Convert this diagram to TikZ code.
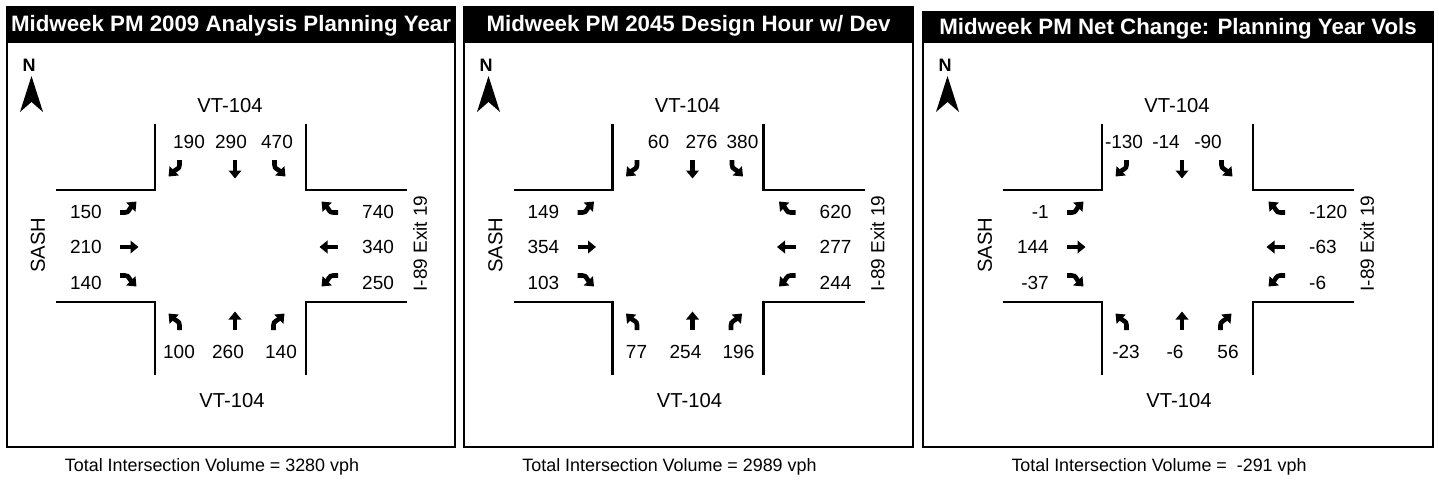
\documentclass[tikz,border=0pt]{standalone}
\usepackage{fontspec}
\setmainfont{Liberation Sans}
\usetikzlibrary{arrows.meta}
\tikzset{
  frame/.style={line width=1.6pt},
  road/.style={line width=2.2pt},
  lbl/.style={inner sep=0pt, font=\fontsize{19}{22}\selectfont},
  biglbl/.style={inner sep=0pt, font=\fontsize{20.2}{23}\selectfont},
  totlbl/.style={inner sep=0pt, font=\fontsize{17.9}{21}\selectfont},
  titletext/.style={inner sep=0pt, text=white, font=\fontsize{22.3}{26}\selectfont\bfseries},
  ntext/.style={inner sep=0pt, font=\fontsize{18}{20}\selectfont\bfseries},
  tarrow/.style={line width=4.6pt, -{Triangle[length=8pt 0, width=12.5pt 0]}},
  dirE/.style={x={(1pt,0pt)}, y={(0pt,1pt)}},
  dirW/.style={x={(-1pt,0pt)}, y={(0pt,-1pt)}},
  dirS/.style={x={(0pt,-1pt)}, y={(1pt,0pt)}},
  dirN/.style={x={(0pt,1pt)}, y={(-1pt,0pt)}},
}
\newcommand\mvL{\draw[tarrow] (-9,-5.5) -- (-4,-5.5) .. controls (0,-5.5) and (0,-2) .. (7.5,5.5);}
\newcommand\mvR{\draw[tarrow] (-9,5.5) -- (-4,5.5) .. controls (0,5.5) and (0,2) .. (7.5,-5.5);}
\newcommand\mvT{\draw[tarrow] (-9,0) -- (9.5,0);}
\newcommand\tarr[4]{\begin{scope}[shift={(#1,#2)},dir#3]\csname mv#4\endcsname\end{scope}}
\newcommand\drawpanel[6]{%
  \pgfmathsetmacro\pcx{(#2+#3)/2}
  \fill (#2,#4) rectangle (#3,43);
  \node[titletext] (#1title) at (\pcx,{(#4+43)/2+1}) {#5};
  \draw[frame] (#2,#4) rectangle (#3,447);
  \node[ntext] (#1N) at (#2+22,65.5) {N};
  \fill (#2+24.5,76) -- (#2+36,112) -- (#2+24.5,102) -- (#2+13,112) -- cycle;
  \draw[road] (\pcx-76,124) -- (\pcx-76,190) -- (\pcx-175,190);
  \draw[road] (\pcx+75,124) -- (\pcx+75,190) -- (\pcx+176,190);
  \draw[road] (\pcx-175,302) -- (\pcx-76,302) -- (\pcx-76,375);
  \draw[road] (\pcx+176,302) -- (\pcx+75,302) -- (\pcx+75,375);
  \node[biglbl] (#1vtn) at (\pcx-1,106) {VT-104};
  \node[biglbl] (#1vts) at (\pcx+1,401) {VT-104};
  \node[biglbl,rotate=90] (#1sash) at (\pcx-193,245) {SASH};
  \node[lbl,rotate=90] (#1ieg) at (\pcx+189,243.5) {I-89 Exit 19};
  \node[totlbl] (#1tot) at (\pcx-19,467) {Total Intersection Volume = #6 vph};
  \tarr{\pcx-57}{169}{S}{R}\tarr{\pcx+4}{169}{S}{T}\tarr{\pcx+49}{169}{S}{L}
  \tarr{\pcx-102}{207}{E}{L}\tarr{\pcx-102}{247}{E}{T}\tarr{\pcx-102}{281}{E}{R}
  \tarr{\pcx+98}{207}{W}{R}\tarr{\pcx+98}{247}{W}{T}\tarr{\pcx+98}{281}{W}{L}
  \tarr{\pcx-57}{321}{N}{L}\tarr{\pcx+4}{321}{N}{T}\tarr{\pcx+48}{321}{N}{R}
}
% #5,#6,#7 = horizontal offsets of the three top numbers from the panel centre
\newcommand\topnums[7]{%
  \node[lbl] (#1t1) at (\pcx+#5,142) {#2};
  \node[lbl] (#1t2) at (\pcx+#6,142) {#3};
  \node[lbl] (#1t3) at (\pcx+#7,142) {#4};}
\newcommand\leftnums[4]{%
  \node[lbl,anchor=east] (#1l1) at (\pcx-129,212) {#2};
  \node[lbl,anchor=east] (#1l2) at (\pcx-129,247) {#3};
  \node[lbl,anchor=east] (#1l3) at (\pcx-129,283) {#4};}
\newcommand\rightnums[4]{%
  \node[lbl,anchor=west] (#1r1) at (\pcx+131,212) {#2};
  \node[lbl,anchor=west] (#1r2) at (\pcx+131,247) {#3};
  \node[lbl,anchor=west] (#1r3) at (\pcx+131,283) {#4};}
\newcommand\botnums[4]{%
  \node[lbl] (#1b1) at (\pcx-52,352) {#2};
  \node[lbl] (#1b2) at (\pcx-3,352) {#3};
  \node[lbl] (#1b3) at (\pcx+50,352) {#4};}
\begin{document}
\begin{tikzpicture}[x=1pt,y=-1pt]
\useasboundingbox[fill=white] (0,0) rectangle (1439,485);
\drawpanel{a}{7}{455}{7}{Midweek PM 2009 Analysis Planning Year}{3280}
\topnums{a}{190}{290}{470}{-42}{0}{46}
\leftnums{a}{150}{210}{140}
\rightnums{a}{740}{340}{250}
\botnums{a}{100}{260}{140}
\drawpanel{b}{464}{913}{7}{Midweek PM 2045 Design Hour w/ Dev}{2989}
\topnums{b}{60}{276}{380}{-30}{13}{54}
\leftnums{b}{149}{354}{103}
\rightnums{b}{620}{277}{244}
\botnums{b}{77}{254}{196}
\drawpanel{c}{923}{1433}{12}{Midweek PM Net Change: Planning Year Vols}{\ -291}
\topnums{c}{-130}{-14}{-90}{-54}{-12}{30}
\leftnums{c}{-1}{144}{-37}
\rightnums{c}{-120}{-63}{-6}
\botnums{c}{-23}{-6}{56}
\end{tikzpicture}
\end{document}
